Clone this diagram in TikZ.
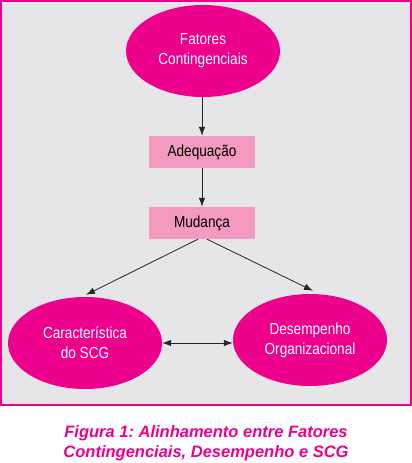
\documentclass[tikz,border=0pt]{standalone}
\usepackage{fontspec}
\setmainfont{Liberation Sans}
\newfontfamily\narrowfont[FakeStretch=0.85]{Liberation Sans}
\usepackage{tikz}
\usetikzlibrary{positioning, arrows.meta, shapes.geometric}
\usepackage{xcolor}
\definecolor{magentaSCG}{RGB}{236, 0, 140}
\definecolor{rosaBox}{RGB}{244, 154, 193}
\definecolor{fundo}{RGB}{230, 230, 232}
\frenchspacing

\begin{document}
\begin{tikzpicture}[
  x=1pt, y=1pt,
  ellip/.style={ellipse, fill=magentaSCG, minimum width=154pt, minimum height=92pt,
    inner sep=0pt, align=center, text=white, font=\narrowfont\fontsize{16}{20}\selectfont},
  bloco/.style={rectangle, fill=rosaBox, minimum width=106pt, minimum height=32pt,
    inner sep=0pt, font=\narrowfont\fontsize{16}{20}\selectfont},
  seta/.style={->, line width=0.8pt, black!85},
  >={Latex[length=9pt, width=6.5pt]}
]
  \useasboundingbox (0,0) rectangle (412,-463);
  % moldura
  \draw[line width=2pt, magentaSCG, fill=fundo] (1,-1) rectangle (411,-405);

  \node[ellip] (fat) at (203,-51)  {Fatores\\Contingenciais};
  \node[bloco] (adq) at (202,-152) {Adequação};
  \node[bloco] (mud) at (202,-223) {Mudança};
  \node[ellip] (scg) at (85,-343)  {Característica\\do SCG};
  \node[ellip] (des) at (310,-340) {Desempenho\\Organizacional};

  % setas
  \draw[seta] (fat.south -| adq.north) -- (adq.north);
  \draw[seta] (adq) -- (mud);
  \draw[seta] ([xshift=-4pt]mud.south) -- ([xshift=1pt,yshift=2pt]scg.north);
  \draw[seta] ([xshift=5pt]mud.south) -- ([xshift=3pt,yshift=3pt]des.north);
  \draw[seta, <->] (scg.east) -- (scg.east -| des.west);

  % legenda
  \node[align=center, text=magentaSCG, font=\bfseries\itshape\fontsize{16.5}{20.5}\selectfont]
    (leg) at (206,-443) {Figura 1: Alinhamento entre Fatores\\Contingenciais, Desempenho e SCG};
\end{tikzpicture}
\end{document}
